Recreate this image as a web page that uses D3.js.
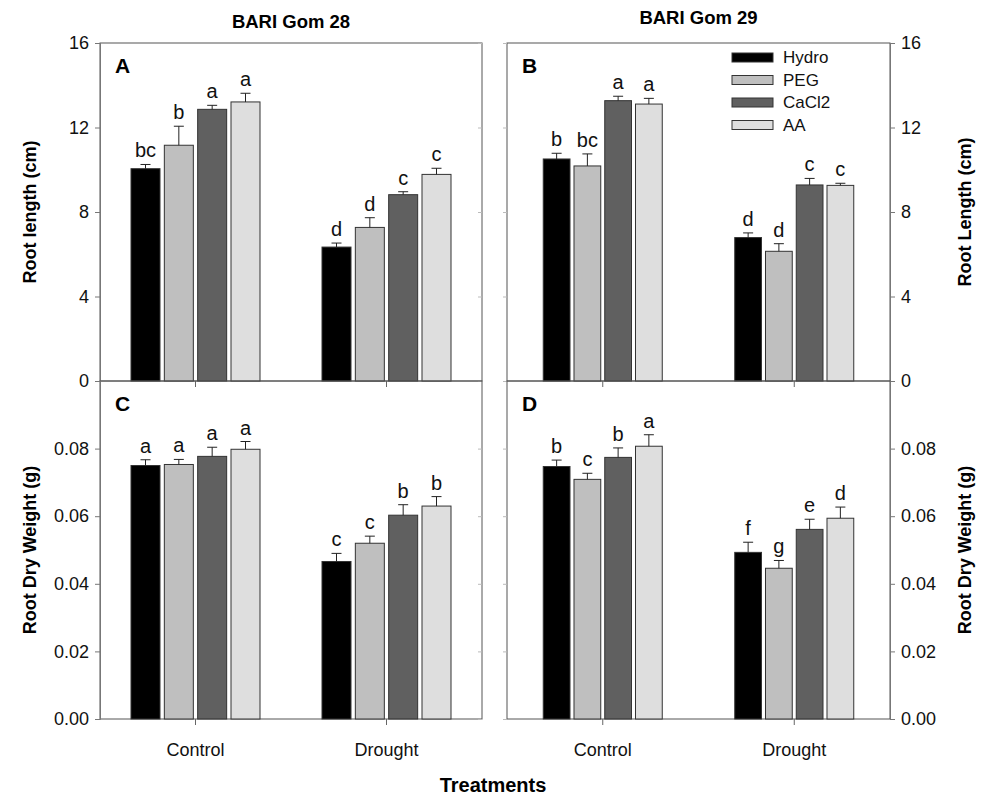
<!DOCTYPE html>
<html>
<head>
<meta charset="utf-8">
<script src="https://cdn.jsdelivr.net/npm/d3@7"></script>
<style>
  body { margin: 0; background: #fff; }
  svg { font-family: "Liberation Sans", Arial, sans-serif; }
</style>
</head>
<body>
<div id="chart"></div>
<script>
// Root length and root dry weight of two wheat varieties, control vs drought

const treatments = ["Hydro", "PEG", "CaCl2", "AA"];
const conditions = ["Control", "Drought"];
const colors = ["#000000", "#bfbfbf", "#606060", "#dedede"];

// values ordered Control (Hydro, PEG, CaCl2, AA), then Drought (same order)
const lenGom28 = [10.05, 11.16, 12.86, 13.21, 6.34, 7.27, 8.82, 9.78];
const lenGom28Err = [0.2, 0.9, 0.19, 0.41, 0.19, 0.46, 0.14, 0.29];
const lenGom28Sig = ["bc", "b", "a", "a", "d", "d", "c", "c"];

const lenGom29 = [10.51, 10.18, 13.27, 13.11, 6.79, 6.14, 9.28, 9.26];
const lenGom29Err = [0.27, 0.57, 0.21, 0.27, 0.22, 0.36, 0.31, 0.1];
const lenGom29Sig = ["b", "bc", "a", "a", "d", "d", "c", "c"];

const dwGom28 = [0.0750, 0.0753, 0.0777, 0.0798, 0.0466, 0.0520, 0.0603, 0.0630];
const dwGom28Err = [0.0017, 0.0015, 0.0027, 0.0023, 0.0024, 0.0021, 0.0031, 0.0028];
const dwGom28Sig = ["a", "a", "a", "a", "c", "c", "b", "b"];

const dwGom29 = [0.0747, 0.0709, 0.0774, 0.0807, 0.0493, 0.0446, 0.0561, 0.0594];
const dwGom29Err = [0.0019, 0.0018, 0.0028, 0.0034, 0.0030, 0.0023, 0.0030, 0.0033];
const dwGom29Sig = ["b", "c", "b", "a", "f", "g", "e", "d"];

const lenTicks = [0, 4, 8, 12, 16];
const dwTicks = [0, 0.02, 0.04, 0.06, 0.08];

const width = 987, height = 797;

const svg = d3.select("#chart")
  .append("svg")
  .attr("width", width)
  .attr("height", height);

const cols = [
  { x0: 100, x1: 482, group: 129, side: "left", title: "BARI Gom 28", titleY: 28 },
  { x0: 507, x1: 890, group: 119, side: "right", title: "BARI Gom 29", titleY: 24 }
];
const rows = [
  { y0: 43, y1: 381, max: 16, ticks: lenTicks, fmt: d3.format("d"), lab: ["Root length (cm)", "Root Length (cm)"] },
  { y0: 381, y1: 719, max: 0.1, ticks: dwTicks, fmt: d3.format(".2f"), lab: ["Root Dry Weight (g)", "Root Dry Weight (g)"] }
];

const panels = [
  { r: 0, c: 0, name: "A", vals: lenGom28, err: lenGom28Err, sig: lenGom28Sig },
  { r: 0, c: 1, name: "B", vals: lenGom29, err: lenGom29Err, sig: lenGom29Sig, legend: true },
  { r: 1, c: 0, name: "C", vals: dwGom28, err: dwGom28Err, sig: dwGom28Sig },
  { r: 1, c: 1, name: "D", vals: dwGom29, err: dwGom29Err, sig: dwGom29Sig }
];

panels.forEach(drawPanel);

function drawPanel(p) {
  const col = cols[p.c], row = rows[p.r];

  const x = d3.scaleBand().domain(conditions).range([col.x0, col.x1]);
  const xSub = d3.scaleBand().domain(treatments)
    .range([-col.group / 2, col.group / 2])
    .paddingInner(0.13);
  const y = d3.scaleLinear().domain([0, row.max]).range([row.y1, row.y0]);

  const data = p.vals.map((v, i) => ({
    cond: conditions[Math.floor(i / 4)],
    trt: treatments[i % 4],
    color: colors[i % 4],
    value: v,
    err: p.err[i],
    sig: p.sig[i]
  }));

  const g = svg.append("g");

  // frame
  g.append("rect")
    .attr("x", col.x0).attr("y", row.y0)
    .attr("width", col.x1 - col.x0).attr("height", row.y1 - row.y0)
    .attr("fill", "none")
    .attr("stroke", "#555")
    .attr("stroke-width", 1);

  // y axis
  const yAxis = col.side === "left" ? d3.axisLeft(y) : d3.axisRight(y);
  const ax = g.append("g")
    .attr("transform", `translate(${col.side === "left" ? col.x0 : col.x1},0)`)
    .call(yAxis.tickValues(row.ticks).tickFormat(row.fmt).tickSize(5).tickPadding(6));
  ax.select(".domain").attr("stroke", "#777");
  ax.selectAll(".tick line").attr("stroke", "#777");
  ax.selectAll(".tick text")
    .attr("font-size", 18)
    .attr("font-family", "Liberation Sans, Arial, sans-serif")
    .attr("fill", "#111");

  // faint ticks on the inner edge
  const inner = g.append("g")
    .attr("transform", `translate(${col.side === "left" ? col.x1 : col.x0},0)`)
    .call(d3.axisLeft(y).tickValues(row.ticks).tickFormat("").tickSize(4));
  inner.select(".domain").remove();
  inner.selectAll(".tick line").attr("stroke", "#bbb");

  // x ticks
  const xAxis = g.append("g")
    .attr("transform", `translate(0,${row.y1})`)
    .call(d3.axisBottom(x).tickSize(6).tickFormat(p.r === 1 ? (d => d) : ""));
  xAxis.select(".domain").remove();
  xAxis.selectAll(".tick line").attr("stroke", "#666");
  xAxis.selectAll(".tick text")
    .attr("font-size", 18)
    .attr("font-family", "Liberation Sans, Arial, sans-serif")
    .attr("fill", "#111")
    .attr("dy", "1.55em");

  // bars
  g.append("g")
    .selectAll("rect")
    .data(data)
    .join("rect")
    .attr("x", d => x(d.cond) + x.bandwidth() / 2 + xSub(d.trt))
    .attr("y", d => y(d.value))
    .attr("width", xSub.bandwidth())
    .attr("height", d => y(0) - y(d.value))
    .attr("fill", d => d.color)
    .attr("stroke", "#333")
    .attr("stroke-width", 1);

  // error bars (upper half only)
  const eb = g.append("g")
    .attr("stroke", "#222")
    .attr("stroke-width", 1)
    .selectAll("g")
    .data(data)
    .join("g")
    .attr("transform", d => `translate(${x(d.cond) + x.bandwidth() / 2 + xSub(d.trt) + xSub.bandwidth() / 2},0)`);
  eb.append("line")
    .attr("y1", d => y(d.value))
    .attr("y2", d => y(d.value + d.err));
  eb.append("line")
    .attr("x1", -5).attr("x2", 5)
    .attr("y1", d => y(d.value + d.err))
    .attr("y2", d => y(d.value + d.err));

  // significance letters
  g.append("g")
    .attr("font-size", 20)
    .attr("text-anchor", "middle")
    .attr("fill", "#111")
    .selectAll("text")
    .data(data)
    .join("text")
    .attr("x", d => x(d.cond) + x.bandwidth() / 2 + xSub(d.trt) + xSub.bandwidth() / 2)
    .attr("y", d => y(d.value + d.err) - 7)
    .text(d => d.sig);

  // panel letter
  g.append("text")
    .attr("x", col.x0 + 15)
    .attr("y", row.y0 + 30)
    .attr("font-size", 21)
    .attr("font-weight", "bold")
    .text(p.name);

  // y title
  const tx = col.side === "left" ? 30 : 965;
  g.append("text")
    .attr("transform", `translate(${tx},${(row.y0 + row.y1) / 2}) rotate(-90)`)
    .attr("text-anchor", "middle")
    .attr("dy", "0.35em")
    .attr("font-size", 18)
    .attr("font-weight", "bold")
    .text(row.lab[p.c]);

  if (p.legend) {
    const lg = g.append("g")
      .selectAll("g")
      .data(treatments)
      .join("g")
      .attr("transform", (d, i) => `translate(732,${57.5 + i * 22.5})`);
    lg.append("rect")
      .attr("x", 0).attr("y", -4.5)
      .attr("width", 41).attr("height", 9)
      .attr("fill", (d, i) => colors[i])
      .attr("stroke", "#333");
    lg.append("text")
      .attr("x", 51)
      .attr("dy", "0.35em")
      .attr("font-size", 17)
      .attr("fill", "#111")
      .text(d => d);
  }
}

// column titles
svg.append("g")
  .selectAll("text")
  .data(cols)
  .join("text")
  .attr("x", d => (d.x0 + d.x1) / 2)
  .attr("y", d => d.titleY)
  .attr("text-anchor", "middle")
  .attr("font-size", 18.5)
  .attr("font-weight", "bold")
  .text(d => d.title);

svg.append("text")
  .attr("x", 493)
  .attr("y", 792)
  .attr("text-anchor", "middle")
  .attr("font-size", 20)
  .attr("font-weight", "bold")
  .text("Treatments");
</script>
</body>
</html>
